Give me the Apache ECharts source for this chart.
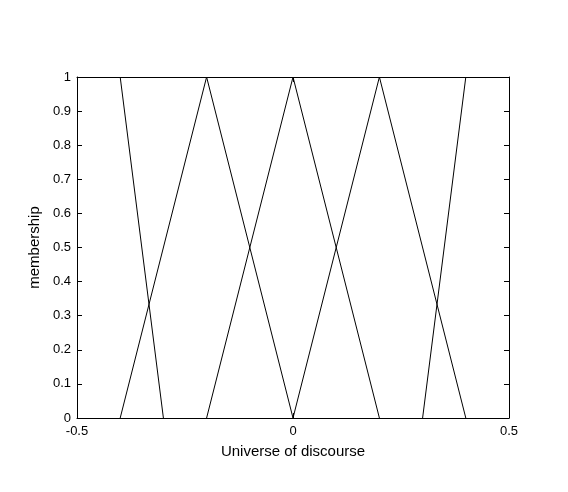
<!DOCTYPE html>
<html><head><meta charset="utf-8">
<script src="https://cdn.jsdelivr.net/npm/echarts@6/dist/echarts.min.js"></script>
<style>html,body{margin:0;padding:0;background:#fff}#c{width:568px;height:492px}</style>
</head><body><div id="c"></div>
<script>
const xTicks = [-0.5, 0, 0.5];
const yTicks = [0, 0.1, 0.2, 0.3, 0.4, 0.5, 0.6, 0.7, 0.8, 0.9, 1];
const mfX1 = [-0.4, -0.3];       const mfY1 = [1, 0];
const mfX2 = [-0.4, -0.2, 0];    const mfY2 = [0, 1, 0];
const mfX3 = [-0.2, 0, 0.2];     const mfY3 = [0, 1, 0];
const mfX4 = [0, 0.2, 0.4];      const mfY4 = [0, 1, 0];
const mfX5 = [0.3, 0.4];         const mfY5 = [0, 1];
const mfs = [[mfX1, mfY1], [mfX2, mfY2], [mfX3, mfY3], [mfX4, mfY4], [mfX5, mfY5]];

const font = 'Liberation Sans, Arial, sans-serif';
const axisLine = {show: true, onZero: false, lineStyle: {color: '#000', width: 1}};
const tick = {show: true, inside: true, length: 5, lineStyle: {color: '#000'}};
const chart = echarts.init(document.getElementById('c'), null, {renderer: 'canvas'});
chart.setOption({
  animation: false,
  backgroundColor: '#fff',
  grid: {left: 77, right: 59, top: 77, bottom: 74, containLabel: false},
  xAxis: [
    {type: 'value', min: -0.5, max: 0.5, interval: 0.5, position: 'bottom',
     name: 'Universe of discourse', nameLocation: 'middle', nameGap: 26,
     nameTextStyle: {color: '#000', fontFamily: font, fontSize: 15},
     axisLine, axisTick: tick, splitLine: {show: false},
     axisLabel: {color: '#000', fontFamily: font, fontSize: 13, margin: 7,
       formatter: v => xTicks.includes(v) ? String(v) : ''}},
    {type: 'value', min: -0.5, max: 0.5, interval: 0.5, position: 'top',
     axisLine, axisTick: tick, splitLine: {show: false}, axisLabel: {show: false}}
  ],
  yAxis: [
    {type: 'value', min: 0, max: 1, interval: 0.1, position: 'left',
     name: 'membership', nameLocation: 'middle', nameGap: 34, nameRotate: 90,
     nameTextStyle: {color: '#000', fontFamily: font, fontSize: 15},
     axisLine, axisTick: tick, splitLine: {show: false},
     axisLabel: {color: '#000', fontFamily: font, fontSize: 13, margin: 6,
       formatter: v => { const r = Math.round(v * 10) / 10; return yTicks.includes(r) ? String(r) : ''; }}},
    {type: 'value', min: 0, max: 1, interval: 0.1, position: 'right',
     axisLine, axisTick: tick, splitLine: {show: false}, axisLabel: {show: false}}
  ],
  series: mfs.map(([xs, ys]) => ({
    type: 'line', xAxisIndex: 0, yAxisIndex: 0, symbol: 'none', silent: true,
    lineStyle: {color: '#000', width: 1},
    data: xs.map((x, i) => [x, ys[i]])
  }))
});
</script></body></html>
